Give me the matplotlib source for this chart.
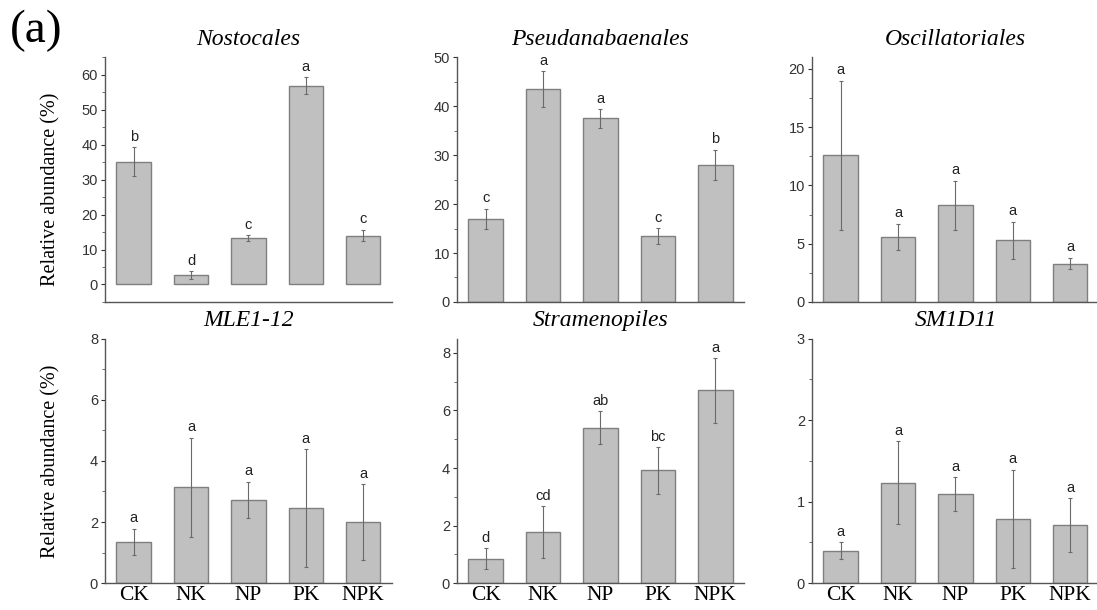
#!/usr/bin/env python3
"""
Relative abundance of dominant taxa under fertilisation treatments (panel a).
Bars = mean, whiskers = SD, letters = post-hoc groups.
"""

import matplotlib
matplotlib.use("Agg")
import matplotlib.pyplot as plt
from matplotlib.ticker import MultipleLocator

plt.rcParams.update({
    "font.family": "Liberation Sans",
    "axes.spines.top": False,
    "axes.spines.right": False,
})

SERIF = "Liberation Serif"
BAR_COLOR = "#c0c0c0"
EDGE_COLOR = "#7f7f7f"
ERR_COLOR = "#6a6a6a"
TEXT_COLOR = "#222222"

# -----------------------------------------------------------------------------
# DATA
# -----------------------------------------------------------------------------

treatments = ["CK", "NK", "NP", "PK", "NPK"]

taxa = ["Nostocales", "Pseudanabaenales", "Oscillatoriales",
        "MLE1-12", "Stramenopiles", "SM1D11"]

nostocales_mean = [35.1, 2.7, 13.2, 56.9, 14.0]
nostocales_err = [4.1, 1.1, 0.9, 2.4, 1.7]
nostocales_sig = ["b", "d", "c", "a", "c"]

pseudanabaenales_mean = [17.0, 43.5, 37.5, 13.5, 28.0]
pseudanabaenales_err = [2.1, 3.7, 1.9, 1.6, 3.1]
pseudanabaenales_sig = ["c", "a", "a", "c", "b"]

oscillatoriales_mean = [12.6, 5.6, 8.3, 5.3, 3.3]
oscillatoriales_err = [6.4, 1.1, 2.1, 1.6, 0.5]
oscillatoriales_sig = ["a", "a", "a", "a", "a"]

mle_mean = [1.35, 3.13, 2.72, 2.45, 2.0]
mle_err = [0.43, 1.62, 0.60, 1.93, 1.24]
mle_sig = ["a", "a", "a", "a", "a"]

stramenopiles_mean = [0.85, 1.77, 5.40, 3.92, 6.70]
stramenopiles_err = [0.37, 0.90, 0.57, 0.81, 1.12]
stramenopiles_sig = ["d", "cd", "ab", "bc", "a"]

sm1d11_mean = [0.40, 1.23, 1.09, 0.79, 0.71]
sm1d11_err = [0.10, 0.51, 0.21, 0.60, 0.33]
sm1d11_sig = ["a", "a", "a", "a", "a"]

# axis settings per panel: (ymin, ymax, major step, minor step)
y_axes = [(-5, 65, 10, 5), (0, 50, 10, 5), (0, 21, 5, 2.5),
          (0, 8, 2, 1), (0, 8.5, 2, 1), (0, 3, 1, 0.5)]


# =============================================================================
# PLOTTING
# =============================================================================

def draw_panel(ax, title, means, errs, sigs, yax, show_xticks, ylabel_y):
    ymin, ymax, major, minor = yax
    x = list(range(len(treatments)))

    ax.bar(x, means, width=0.6, color=BAR_COLOR, edgecolor=EDGE_COLOR,
           linewidth=1.0, zorder=2)
    ax.errorbar(x, means, yerr=errs, fmt="none", ecolor=ERR_COLOR,
                elinewidth=0.8, capsize=1.5, capthick=0.8, zorder=3)

    for xi, m, e, s in zip(x, means, errs, sigs):
        ax.annotate(s, (xi, m + e), xytext=(0, 2.5), textcoords="offset points",
                    ha="center", va="bottom", fontsize=10.5, color=TEXT_COLOR)

    ax.set_xlim(-0.5, len(treatments) - 0.5)
    ax.set_ylim(ymin, ymax)
    ax.yaxis.set_major_locator(MultipleLocator(major))
    ax.yaxis.set_minor_locator(MultipleLocator(minor))
    ax.set_yticks([t for t in ax.get_yticks() if 0 <= t <= ymax + 1e-9])
    ax.tick_params(axis="y", which="major", length=3, width=0.8,
                   labelsize=10.5, colors="#333333", pad=2)
    ax.tick_params(axis="y", which="minor", length=2, width=0.6,
                   colors="#555555")

    ax.set_xticks(x)
    if show_xticks:
        ax.set_xticklabels(treatments, fontfamily=SERIF, fontsize=15.5)
    else:
        ax.set_xticklabels([])
    ax.tick_params(axis="x", length=0, pad=2)

    for side in ("left", "bottom"):
        ax.spines[side].set_color("#555555")
        ax.spines[side].set_linewidth(1.0)

    ax.set_title(title, fontfamily=SERIF, fontstyle="italic", fontsize=17,
                 pad=9)
    if ylabel_y is not None:
        ax.set_ylabel("Relative abundance (%)", fontfamily=SERIF,
                      fontsize=14.5)
        # keep both row labels on the same vertical line
        ax.yaxis.set_label_coords(-0.155, ylabel_y)


def main():
    fig = plt.figure(figsize=(10.97, 6.10), dpi=100)

    lefts = [0.0957, 0.4166, 0.7402]
    width = 0.2616
    bottoms = [0.505, 0.044]
    height = 0.401
    label_y = [0.46, 0.5]

    panel_data = [
        (nostocales_mean, nostocales_err, nostocales_sig),
        (pseudanabaenales_mean, pseudanabaenales_err, pseudanabaenales_sig),
        (oscillatoriales_mean, oscillatoriales_err, oscillatoriales_sig),
        (mle_mean, mle_err, mle_sig),
        (stramenopiles_mean, stramenopiles_err, stramenopiles_sig),
        (sm1d11_mean, sm1d11_err, sm1d11_sig),
    ]

    for i, (title, (m, e, s), yax) in enumerate(zip(taxa, panel_data, y_axes)):
        row, col = divmod(i, 3)
        ax = fig.add_axes([lefts[col], bottoms[row], width, height])
        draw_panel(ax, title, m, e, s, yax,
                   show_xticks=(row == 1),
                   ylabel_y=label_y[row] if col == 0 else None)

    fig.text(0.009, 0.985, "(a)", fontfamily=SERIF, fontsize=34,
             ha="left", va="top")

    fig.savefig("out.png", dpi=100)
    plt.close(fig)


if __name__ == "__main__":
    main()
